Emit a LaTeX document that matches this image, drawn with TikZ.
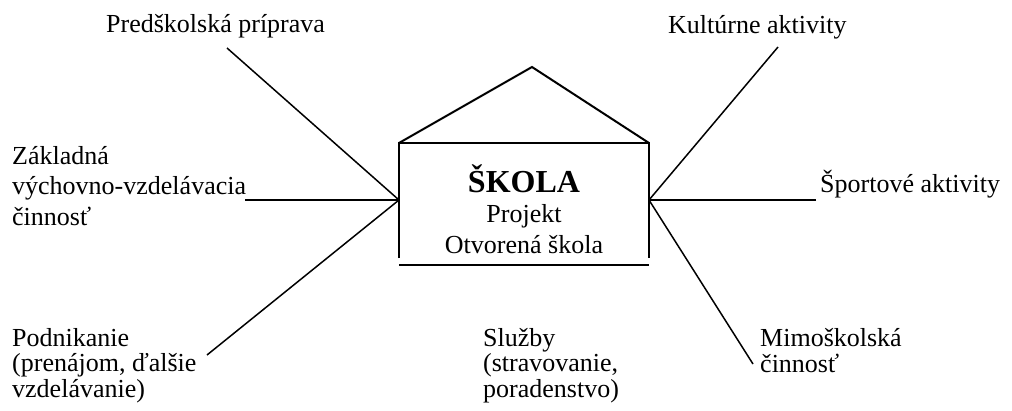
\documentclass[tikz,border=0pt]{standalone}
\usepackage{fontspec}
\setmainfont{Liberation Serif}
\begin{document}
\begin{tikzpicture}[x=1pt,y=-1pt,
  lbl/.style={inner sep=0pt, anchor=base west, align=left, font=\fontsize{26}{30.5}\selectfont},
  lbltight/.style={lbl, font=\fontsize{26}{25.5}\selectfont},
  ln/.style={line width=1.5pt},
  house/.style={line width=2pt}]
\useasboundingbox (0,0) rectangle (1012,410);
% house
\coordinate (bl) at (399,258);
\coordinate (tl) at (399,143);
\coordinate (tr) at (649,143);
\coordinate (br) at (649,258);
\coordinate (apex) at (532,67);
\coordinate (fl) at (399,265);
\coordinate (fr) at (649,265);
\coordinate (jl) at (399,200);
\coordinate (jr) at (649,200);
\draw[house] (bl) -- (tl) -- (tr) -- (br);
\draw[house] (fl) -- (fr);
\draw[house] (tl) -- (apex) -- (tr);
\node[inner sep=0pt, anchor=base, align=center, font=\fontsize{26}{30.5}\selectfont] (skola) at (524,253)
  {{\fontsize{32}{34}\selectfont\bfseries ŠKOLA}\\Projekt\\Otvorená škola};
% labels (anchored at the baseline of the last line)
\node[lbl] (pred) at (106,32) {Predškolská príprava};
\node[lbl] (zakl) at (12,225) {Základná\\výchovno-vzdelávacia\\činnosť};
\node[lbltight] (podn) at (12,397) {Podnikanie\\(prenájom, ďalšie\\vzdelávanie)};
\node[lbltight] (sluz) at (483,397) {Služby\\(stravovanie,\\poradenstvo)};
\node[lbltight] (mimo) at (760,372) {Mimoškolská\\činnosť};
\node[lbl] (kult) at (668,33) {Kultúrne aktivity};
\node[lbl] (sport) at (820,192) {Športové aktivity};
% connector ends
\coordinate (e1) at (227,48);
\coordinate (e2) at (245,200);
\coordinate (e3) at (207,355);
\coordinate (e4) at (778,47);
\coordinate (e5) at (816,200);
\coordinate (e6) at (753,364);
\draw[ln] (e1) -- (jl);
\draw[ln] (e2) -- (jl);
\draw[ln] (e3) -- (jl);
\draw[ln] (e4) -- (jr);
\draw[ln] (e5) -- (jr);
\draw[ln] (e6) -- (jr);
\end{tikzpicture}
\end{document}
